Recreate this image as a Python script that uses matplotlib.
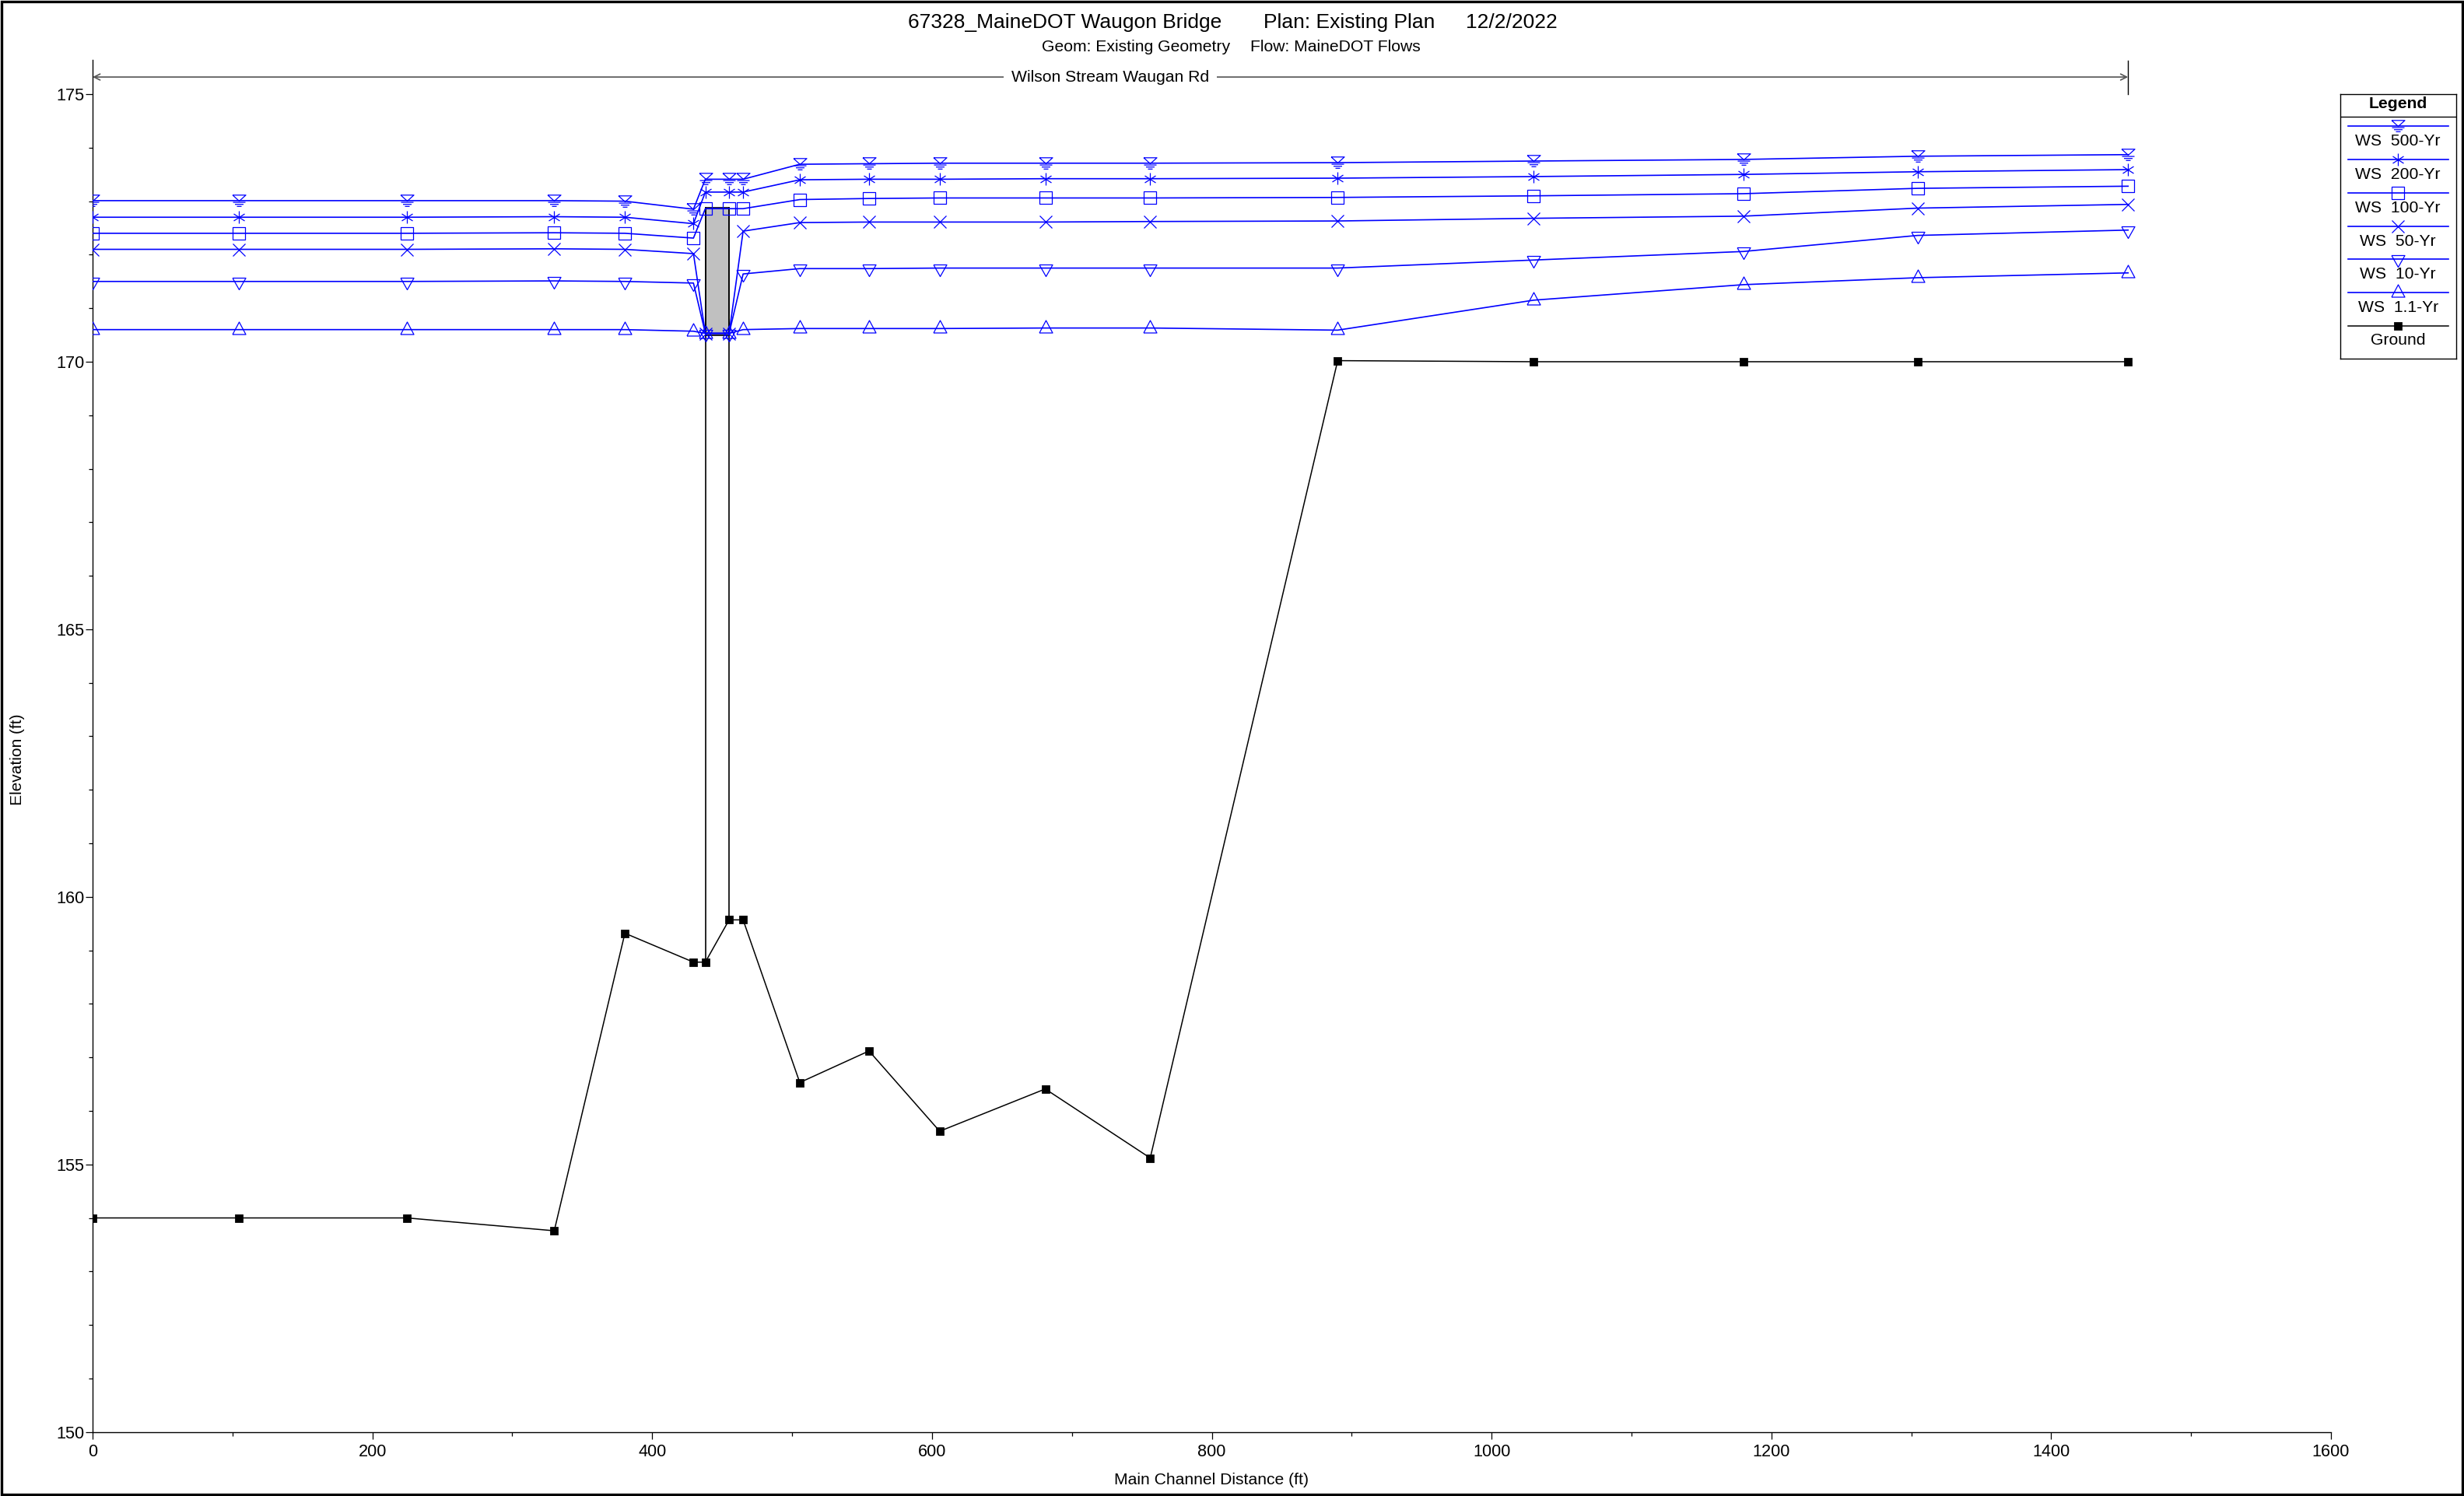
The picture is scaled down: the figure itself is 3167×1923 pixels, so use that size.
import numpy as np
import matplotlib
matplotlib.use("Agg")
import matplotlib.pyplot as plt
from matplotlib.path import Path
from matplotlib.patches import Rectangle

plt.rcParams['font.family'] = ['Liberation Sans', 'DejaVu Sans']

DPI = 200
W, H = 3167, 1923

# main channel stations (ft) and elevations (ft)
stations = [0, 104.5, 224.7, 330, 380.5, 429.5, 438, 455, 465, 505.5,
            555, 605.5, 681, 756, 890, 1030, 1180, 1304.5, 1455]
ground = [154.0, 154.0, 154.0, 153.76, 159.32, 158.78, 158.78, 159.57, 159.57, 156.53,
          157.12, 155.62, 156.41, 155.12, 170.02, 170.0, 170.0, 170.0, 170.0]
ws_500 = [173.01, 173.01, 173.01, 173.01, 173.00, 172.85, 173.41, 173.41, 173.41, 173.69,
          173.70, 173.71, 173.71, 173.71, 173.72, 173.75, 173.78, 173.84, 173.87]
ws_200 = [172.70, 172.70, 172.70, 172.71, 172.70, 172.58, 173.17, 173.17, 173.17, 173.40,
          173.41, 173.41, 173.42, 173.42, 173.43, 173.46, 173.50, 173.55, 173.59]
ws_100 = [172.40, 172.40, 172.40, 172.41, 172.40, 172.31, 172.86, 172.86, 172.86, 173.03,
          173.05, 173.06, 173.06, 173.06, 173.07, 173.10, 173.14, 173.24, 173.28]
ws_50 = [172.10, 172.10, 172.10, 172.11, 172.10, 172.02, 170.53, 170.53, 172.44, 172.60,
         172.61, 172.61, 172.61, 172.62, 172.63, 172.68, 172.72, 172.87, 172.94]
ws_10 = [171.50, 171.50, 171.50, 171.51, 171.50, 171.47, 170.53, 170.53, 171.64, 171.74,
         171.74, 171.75, 171.75, 171.75, 171.75, 171.90, 172.06, 172.36, 172.46]
ws_1 = [170.60, 170.60, 170.60, 170.60, 170.60, 170.57, 170.53, 170.53, 170.60, 170.62,
        170.62, 170.62, 170.63, 170.63, 170.59, 171.15, 171.44, 171.57, 171.66]

bridge_us, bridge_ds = 438, 455
high_chord, low_chord = 172.88, 170.50
reach_end = 1455
reach_name = "Wilson Stream Waugan Rd"

labels = ["WS  500-Yr", "WS  200-Yr", "WS  100-Yr", "WS  50-Yr", "WS  10-Yr", "WS  1.1-Yr"]


def px_marker(segments):
    # segments: list of polylines in pixel units; returns marker path and size in points
    verts, codes = [], []
    for seg in segments:
        verts += seg
        codes += [Path.MOVETO] + [Path.LINETO] * (len(seg) - 1)
    r = np.max(np.abs(verts))
    return Path(verts, codes), 2 * r * 72 / DPI


m_ws = px_marker([[(-8.5, 7.7), (8.5, 7.7), (0, 0), (-8.5, 7.7)],
                  [(-8, -1.6), (8, -1.6)], [(-5.5, -4.2), (5.5, -4.2)], [(-3, -6.8), (3, -6.8)]])
m_star = px_marker([[(0, -8), (0, 8)], [(-7, -4.5), (7, 4.5)], [(-7, 4.5), (7, -4.5)]])
m_sq = px_marker([[(-8, -8), (8, -8), (8, 8), (-8, 8), (-8, -8)]])
m_x = px_marker([[(-8, -8), (8, 8)], [(-8, 8), (8, -8)]])
m_dn = px_marker([[(-8.5, 5), (8.5, 5), (0, -10), (-8.5, 5)]])
m_up = px_marker([[(-8.5, -5.5), (8.5, -5.5), (0, 10.5), (-8.5, -5.5)]])

series = [ws_500, ws_200, ws_100, ws_50, ws_10, ws_1]
markers = [m_ws, m_star, m_sq, m_x, m_dn, m_up]
blue = '#0000ff'

fig = plt.figure(figsize=(W / DPI, H / DPI), dpi=DPI)
ax = fig.add_axes([119 / W, 1 - 1840.7 / H, (2996 - 119) / W, (1840.7 - 77) / H])

# bridge deck and faces
ax.add_patch(Rectangle((bridge_us, low_chord), bridge_ds - bridge_us, high_chord - low_chord,
                       facecolor='#c0c0c0', edgecolor='black', lw=0.6, zorder=2))
for face in (bridge_us, bridge_ds):
    ax.plot([face, face], [np.interp(face, stations, ground), high_chord],
            color='black', lw=0.6, zorder=2)

ax.plot(stations, ground, color='black', lw=0.55, marker='s', ms=3.2, mfc='black',
        mec='black', zorder=3)
for ys, (mp, ms) in zip(series, markers):
    ax.plot(stations, ys, color=blue, lw=0.6, marker=mp, ms=ms, mfc='none',
            mec=blue, mew=0.45, zorder=4)

ax.set_xlim(0, 1600)
ax.set_ylim(150, 175.64)
ax.set_xticks(np.arange(0, 1601, 200))
ax.set_xticks(np.arange(0, 1601, 100), minor=True)
ax.set_yticks(np.arange(150, 176, 5))
ax.set_yticks(np.arange(150, 176, 1), minor=True)
for s in ('top', 'right'):
    ax.spines[s].set_visible(False)
for s in ('left', 'bottom'):
    ax.spines[s].set_linewidth(0.5)
ax.tick_params(which='major', length=3.2, width=0.45, labelsize=7.8)
ax.tick_params(which='minor', length=1.8, width=0.45)
ax.tick_params(axis='y', pad=0.6)
ax.tick_params(axis='x', pad=2.4)

# reach annotation
ya = 175.32
ax.annotate('', xy=(0, ya), xytext=(reach_end, ya),
            arrowprops=dict(arrowstyle='<->', color='#555555', lw=0.6,
                            shrinkA=0, shrinkB=0, mutation_scale=7),
            annotation_clip=False)
ax.plot([reach_end, reach_end], [175.0, 175.63], color='black', lw=0.5, clip_on=False)
ax.text(reach_end / 2, ya, reach_name, ha='center', va='center', fontsize=7.6,
        bbox=dict(facecolor='white', edgecolor='none', pad=3.5))

# titles and axis labels
fig.text(1167 / W, 1 - 29 / H, "67328_MaineDOT Waugon Bridge", fontsize=9.5, va='center')
fig.text(1624 / W, 1 - 29 / H, "Plan: Existing Plan", fontsize=9.5, va='center')
fig.text(1884 / W, 1 - 29 / H, "12/2/2022", fontsize=9.5, va='center')
fig.text(1339 / W, 1 - 61 / H, "Geom: Existing Geometry", fontsize=7.6, va='center')
fig.text(1607 / W, 1 - 61 / H, "Flow: MaineDOT Flows", fontsize=7.6, va='center')
fig.text(23 / W, 1 - 976 / H, "Elevation (ft)", rotation=90, fontsize=7.5,
         ha='center', va='center')
fig.text(1557 / W, 1 - 1903 / H, "Main Channel Distance (ft)", fontsize=7.6,
         ha='center', va='center')

# legend box
lx0, lx1, ly0, ly1 = 3007.7, 3156.7, 120.7, 461
lg = fig.add_axes([lx0 / W, 1 - ly1 / H, (lx1 - lx0) / W, (ly1 - ly0) / H])
lg.set_xlim(0, lx1 - lx0)
lg.set_ylim(ly1 - ly0, 0)
lg.set_xticks([])
lg.set_yticks([])
for s in lg.spines.values():
    s.set_linewidth(0.5)
cx = (lx1 - lx0) / 2
lg.text(cx, 13, "Legend", ha='center', va='center', fontsize=7.6, fontweight='bold')
lg.axhline(29.3, color='black', lw=0.5)
step = 42.8
for i, (lab, (mp, ms)) in enumerate(zip(labels, markers)):
    yl = 41.6 + i * step
    lg.plot([10.3, 139], [yl, yl], color=blue, lw=0.6)
    lg.plot([cx], [yl], marker=mp, ms=ms, mfc='none', mec=blue, mew=0.45)
    lg.text(cx, yl + 19.5, lab, ha='center', va='center', fontsize=7.6)
yl = 41.6 + 6 * step
lg.plot([10.3, 139], [yl, yl], color='black', lw=0.55)
lg.plot([cx], [yl], marker='s', ms=3.2, color='black')
lg.text(cx, yl + 18.5, "Ground", ha='center', va='center', fontsize=7.6)

# outer frame
fig.add_artist(Rectangle((0.0005, 0.001), 0.999, 0.998, transform=fig.transFigure,
                         fill=False, edgecolor='black', lw=1.2))

fig.savefig("out.png", dpi=DPI)
